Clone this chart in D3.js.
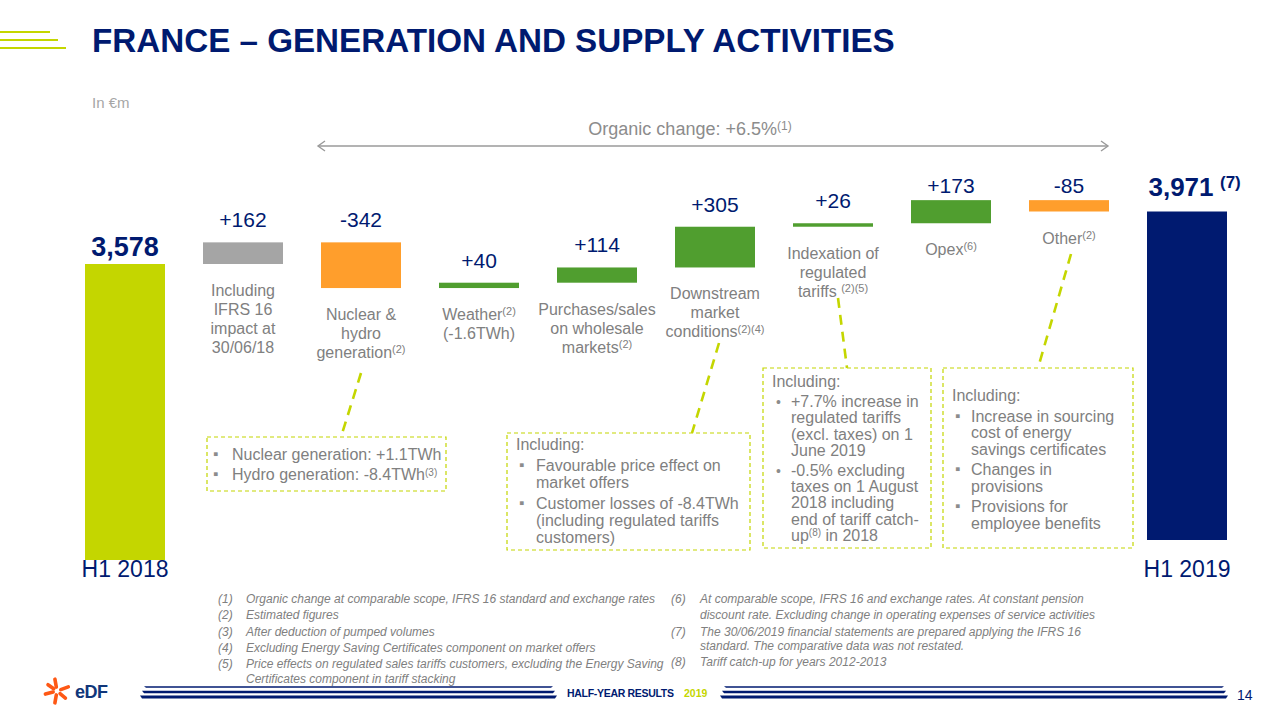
<!DOCTYPE html>
<html>
<head>
<meta charset="utf-8">
<script src="https://cdn.jsdelivr.net/npm/d3@7/dist/d3.min.js"></script>
<style>
  html, body { margin: 0; padding: 0; background: #fff; }
  svg { display: block; }
  text { font-family: "Liberation Sans", Arial, sans-serif; }
</style>
</head>
<body>
<svg id="chart" width="1280" height="720"></svg>
<script>
// ---------------- DATA ----------------
const categories = ["H1 2018", "IFRS 16", "Nuclear & hydro", "Weather", "Purchases/sales",
                    "Downstream", "Indexation", "Opex", "Other", "H1 2019"];
const values = [3578, 162, -342, 40, 114, 305, 26, 173, -85, 3971];
const isTotal = [true, false, false, false, false, false, false, false, false, true];
const totalLabels = ["H1 2018", "H1 2019"];
const descriptions = [
  [],
  ["Including", "IFRS 16", "impact at", "30/06/18"],
  ["Nuclear &", "hydro", "generation^(2)"],
  ["Weather^(2)", "(-1.6TWh)"],
  ["Purchases/sales", "on wholesale", "markets^(2)"],
  ["Downstream", "market", "conditions^(2)(4)"],
  ["Indexation of", "regulated", "tariffs ^(2)(5)"],
  ["Opex^(6)"],
  ["Other^(2)"],
  []
];
const title = "FRANCE – GENERATION AND SUPPLY ACTIVITIES";
const unitLabel = "In €m";
const organicLabel = "Organic change: +6.5%^(1)";
const footnotesLeft = [
  ["(1)", "Organic change at comparable scope, IFRS 16 standard and exchange rates"],
  ["(2)", "Estimated figures"],
  ["(3)", "After deduction of pumped volumes"],
  ["(4)", "Excluding Energy Saving Certificates component on market offers"],
  ["(5)", "Price effects on regulated sales tariffs customers, excluding the Energy Saving"],
  ["", "Certificates component in tariff stacking"]
];
const footnotesRight = [
  ["(6)", "At comparable scope, IFRS 16 and exchange rates. At constant pension"],
  ["", "discount rate. Excluding change in operating expenses of service activities"],
  ["(7)", "The 30/06/2019 financial statements are prepared applying the IFRS 16"],
  ["", "standard. The comparative data was not restated."],
  ["(8)", "Tariff catch-up for years 2012-2013"]
];
const boxNuclear = [["▪", "Nuclear generation: +1.1TWh"], ["▪", "Hydro generation: -8.4TWh^(3)"]];
const boxDownstream = [["", "Including:"], ["▪", "Favourable price effect on"], ["", "market offers"],
  ["▪", "Customer losses of -8.4TWh"], ["", "(including regulated tariffs"], ["", "customers)"]];
const boxIndexation = [["", "Including:"], ["•", "+7.7% increase in"], ["", "regulated tariffs"],
  ["", "(excl. taxes) on 1"], ["", "June 2019"], ["•", "-0.5% excluding"], ["", "taxes on 1 August"],
  ["", "2018 including"], ["", "end of tariff catch-"], ["", "up^(8) in 2018"]];
const boxOther = [["", "Including:"], ["▪", "Increase in sourcing"], ["", "cost of energy"],
  ["", "savings certificates"], ["▪", "Changes in"], ["", "provisions"], ["▪", "Provisions for"],
  ["", "employee benefits"]];

// ---------------- STYLE ----------------
const NAVY = "#001A70", LIME = "#C4D600", GREEN = "#509E2F", ORANGE = "#FF9E2C",
      GREY_BAR = "#A5A5A5", GREY_TXT = "#808080";

const svg = d3.select("#chart");

// rich text helper: "abc^(2) def" -> superscripts
function rich(sel, str, supSize) {
  const parts = str.split(/\^(\([^)]*\)(?:\([^)]*\))*)/);
  let raised = false;
  parts.forEach((p, i) => {
    if (p === "") return;
    const isSup = i % 2 === 1;
    const t = sel.append("tspan").text(p);
    if (isSup) {
      t.attr("font-size", supSize).attr("dy", raised ? 0 : -supSize * 0.45);
      raised = true;
    } else if (raised) {
      t.attr("dy", supSize * 0.45);
      raised = false;
    }
  });
}

// ---------------- HEADER ----------------
[[32, 50], [40, 58], [48, 66]].forEach(([yy, len]) =>
  svg.append("line").attr("x1", 0).attr("x2", len).attr("y1", yy).attr("y2", yy)
     .attr("stroke", LIME).attr("stroke-width", 2.2));
svg.append("text").attr("x", 92).attr("y", 52).attr("fill", NAVY)
   .attr("font-size", 33.2).attr("font-weight", "bold").text(title);
svg.append("text").attr("x", 92).attr("y", 108).attr("fill", "#A6A6A6")
   .attr("font-size", 15).attr("font-family", "'Open Sans', sans-serif").text(unitLabel);

// organic change
const org = svg.append("text").attr("x", 690).attr("y", 135).attr("text-anchor", "middle")
   .attr("fill", "#8C8C8C").attr("font-size", 18);
rich(org, organicLabel, 12);
const ay = 146, ax0 = 318, ax1 = 1108;
const arrowG = svg.append("g").attr("stroke", "#9A9A9A").attr("stroke-width", 1.4).attr("fill", "none");
arrowG.append("line").attr("x1", ax0).attr("x2", ax1).attr("y1", ay).attr("y2", ay);
arrowG.append("path").attr("d", `M${ax0 + 7},${ay - 5} L${ax0},${ay} L${ax0 + 7},${ay + 5}`);
arrowG.append("path").attr("d", `M${ax1 - 7},${ay - 5} L${ax1},${ay} L${ax1 - 7},${ay + 5}`);

// ---------------- SCALES ----------------
const x = d3.scalePoint().domain(categories).range([125, 1187]);
const barW = 80;
const y = d3.scaleLinear().domain([3578, 3971]).range([264, 211.5]);
const totalBottoms = {"H1 2018": 560, "H1 2019": 540};

// waterfall layout
let running = 0;
const bars = categories.map((c, i) => {
  const v = values[i];
  let y0, y1;
  if (isTotal[i]) { running = v; y0 = null; y1 = v; }
  else { y0 = running; y1 = running + v; running = y1; }
  return {c, v, i, y0, y1, total: isTotal[i]};
});

const color = d => {
  if (d.total) return d.i === 0 ? LIME : NAVY;
  if (d.c === "IFRS 16") return GREY_BAR;
  return d.v < 0 ? ORANGE : GREEN;
};

const g = svg.append("g");
g.selectAll("rect.bar").data(bars).join("rect").attr("class", "bar")
  .attr("x", d => x(d.c) - barW / 2).attr("width", barW)
  .attr("y", d => d.total ? y(d.y1) : Math.min(y(d.y0), y(d.y1)))
  .attr("height", d => d.total ? totalBottoms[d.c] - y(d.y1) : Math.abs(y(d.y0) - y(d.y1)))
  .attr("fill", color);

// value labels
const fmtTotal = d3.format(",");
const fmtDelta = d3.format("+");
bars.forEach(d => {
  const top = d.total ? y(d.y1) : Math.min(y(d.y0), y(d.y1));
  if (d.total) {
    const gap = d.i === 0 ? 8 : 16;
    g.append("text").attr("x", x(d.c) + (d.i === 0 ? 0 : -6)).attr("y", top - gap)
      .attr("text-anchor", "middle").attr("fill", NAVY).attr("font-weight", "bold")
      .attr("font-size", d.i === 0 ? 27 : 26).text(fmtTotal(d.v));
    if (d.i !== 0) {
      g.append("text").attr("x", x(d.c) + 33).attr("y", top - 24).attr("fill", NAVY)
        .attr("font-weight", "bold").attr("font-size", 17).text("(7)");
    }
  } else {
    const gap = (d.c === "Opex" || d.c === "Other") ? 7 : 15;
    g.append("text").attr("x", x(d.c)).attr("y", top - gap).attr("text-anchor", "middle")
      .attr("fill", NAVY).attr("font-size", 21).text(d.v < 0 ? String(d.v) : fmtDelta(d.v));
  }
  // descriptions
  const bottom = d.total ? null : Math.max(y(d.y0), y(d.y1));
  descriptions[d.i].forEach((line, k) => {
    const t = g.append("text").attr("x", x(d.c)).attr("y", bottom + 32 + k * 19)
      .attr("text-anchor", "middle").attr("fill", GREY_TXT).attr("font-size", 16);
    rich(t, line, 11);
  });
});

// total axis labels
[0, categories.length - 1].forEach((i, k) => {
  g.append("text").attr("x", x(categories[i])).attr("y", 577).attr("text-anchor", "middle")
    .attr("fill", NAVY).attr("font-size", 23).text(totalLabels[k]);
});

// ---------------- ANNOTATION BOXES ----------------
function connector(x1, y1, x2, y2) {
  svg.append("line").attr("x1", x1).attr("y1", y1).attr("x2", x2).attr("y2", y2)
    .attr("stroke", LIME).attr("stroke-width", 2.6).attr("stroke-dasharray", "10,7");
}
function box(x0, y0, x1, y1, lines, firstBase, lineH, textX, bulletX, breaks) {
  svg.append("rect").attr("x", x0).attr("y", y0).attr("width", x1 - x0).attr("height", y1 - y0)
    .attr("fill", "none").attr("stroke", LIME).attr("stroke-width", 1.2).attr("stroke-dasharray", "4,3");
  let yy = firstBase;
  lines.forEach((ln, k) => {
    if (k > 0) yy += lineH + (breaks && breaks.includes(k) ? 4 : 0);
    const isHead = ln[1] === "Including:";
    if (ln[0]) {
      svg.append("text").attr("x", bulletX).attr("y", yy - (ln[0] === "▪" ? 1 : 0)).attr("fill", "#8C8C8C")
        .attr("font-size", ln[0] === "▪" ? 15 : 14).text(ln[0]);
    }
    const t = svg.append("text").attr("x", isHead ? x0 + 9 : textX).attr("y", yy)
      .attr("fill", GREY_TXT).attr("font-size", 16);
    rich(t, ln[1], 10);
  });
}
connector(361, 373, 341, 437);
box(207, 437, 446, 491, boxNuclear, 460, 20, 232, 213, null);
connector(719, 343, 692, 433);
box(507, 433, 750, 550, boxDownstream, 450, 17, 536, 519, [1, 3]);
connector(838, 298, 847, 368);
box(763, 368, 931, 548, boxIndexation, 387, 16.2, 791, 776, [1, 5]);
connector(1071, 254, 1038, 368);
box(943, 368, 1133, 548, boxOther, 401, 16.5, 971, 955, [1, 4, 6]);

// ---------------- FOOTNOTES ----------------
const fn = svg.append("g").attr("fill", GREY_TXT).attr("font-size", 12).attr("font-style", "italic");
const leftY = [603, 619, 636, 652, 668, 683];
footnotesLeft.forEach((f, k) => {
  fn.append("text").attr("x", 218).attr("y", leftY[k]).text(f[0]);
  fn.append("text").attr("x", 246).attr("y", leftY[k]).text(f[1]);
});
const rightY = [603, 619, 636, 650, 666];
footnotesRight.forEach((f, k) => {
  fn.append("text").attr("x", 671).attr("y", rightY[k]).text(f[0]);
  fn.append("text").attr("x", 700).attr("y", rightY[k]).text(f[1]);
});

// ---------------- FOOTER ----------------
// EDF logo spark
const logo = svg.append("g").attr("transform", "translate(57,691)");
[[-100, 9], [-20, 9], [40, 8], [100, 9], [165, 9], [215, 8]].forEach(([ang, r]) => {
  const a = ang * Math.PI / 180;
  logo.append("line").attr("x1", Math.cos(a) * 4).attr("y1", Math.sin(a) * 4)
    .attr("x2", Math.cos(a) * (r + 3)).attr("y2", Math.sin(a) * (r + 3))
    .attr("stroke", "#FE5815").attr("stroke-width", 3.6).attr("stroke-linecap", "round");
});
svg.append("text").attr("x", 75).attr("y", 698).attr("fill", "#10367A").attr("font-size", 18)
  .attr("font-weight", "bold").attr("letter-spacing", -0.5).text("eDF");

// stripes
function stripes(x0, x1) {
  [[687, 1.6], [692, 2.4], [697, 2.8]].forEach(([yy, w], k) => {
    svg.append("path")
      .attr("d", `M${x0 + (2 - k) * 2},${yy - w / 2} L${x1 - (2 - k) * 2},${yy - w / 2} L${x1 - (2 - k) * 2 - 2},${yy + w / 2} L${x0 + (2 - k) * 2 + 2},${yy + w / 2} Z`)
      .attr("fill", NAVY);
  });
}
stripes(140, 557);
stripes(720, 1228);
svg.append("text").attr("x", 567).attr("y", 697).attr("fill", NAVY).attr("font-size", 10.5)
  .attr("font-weight", "bold").attr("textLength", 107).text("HALF-YEAR RESULTS");
svg.append("text").attr("x", 684).attr("y", 697).attr("fill", LIME).attr("font-size", 10.5)
  .attr("font-weight", "bold").text("2019");
svg.append("text").attr("x", 1237).attr("y", 700).attr("fill", NAVY).attr("font-size", 14).text("14");
</script>
</body>
</html>
